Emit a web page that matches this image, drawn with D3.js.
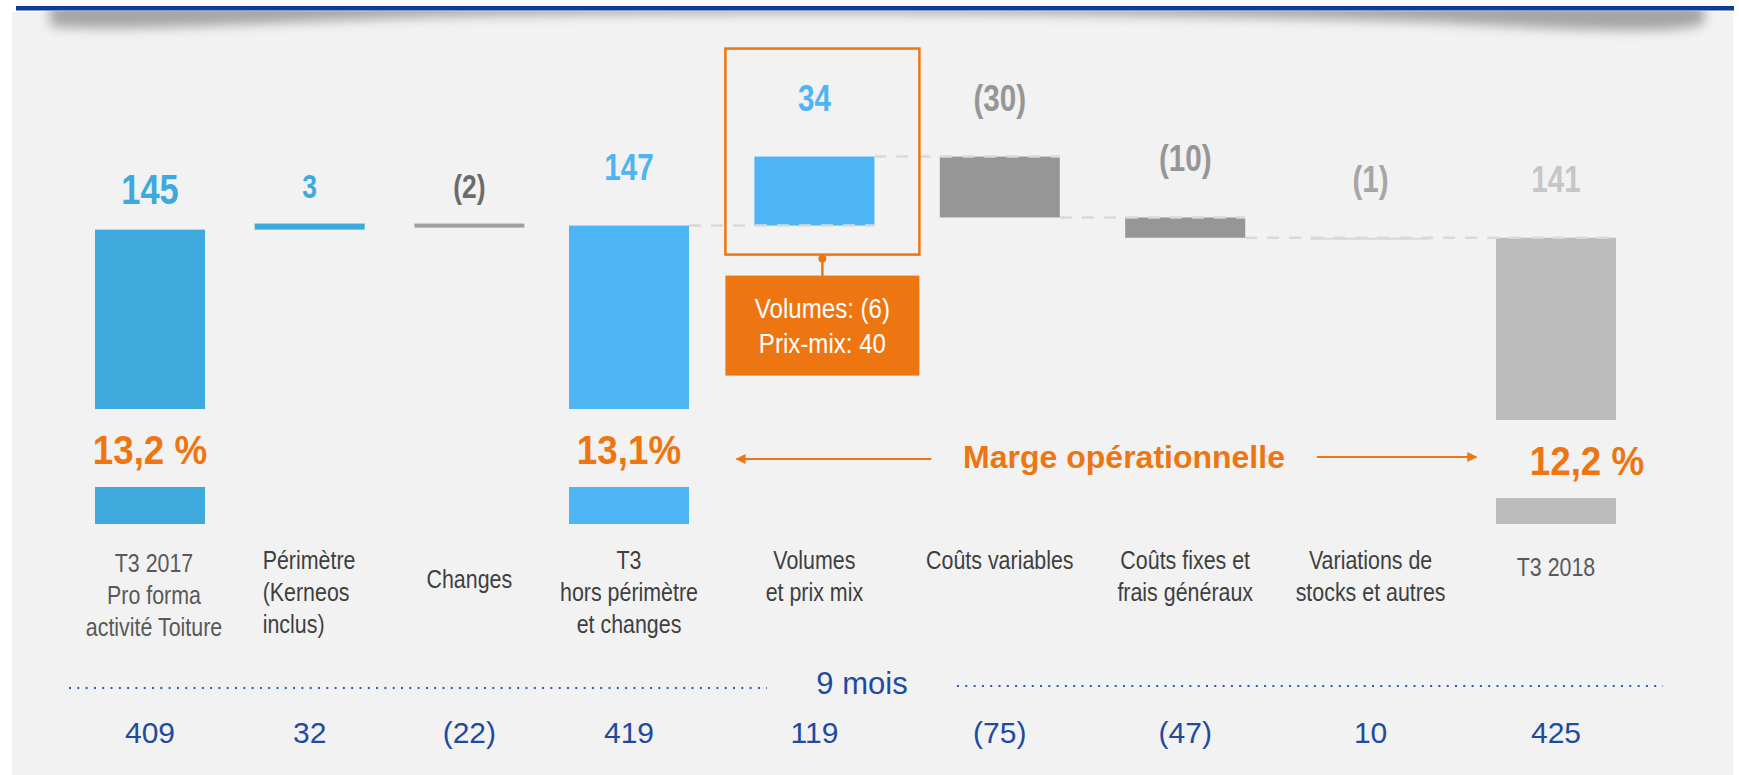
<!DOCTYPE html>
<html>
<head>
<meta charset="utf-8">
<script src="https://cdn.jsdelivr.net/npm/d3@7"></script>
<style>
html, body { margin: 0; padding: 0; background: #fff; overflow: hidden; }
</style>
</head>
<body>
<div id="chart"></div>
<script>

// Q3 operating income bridge (waterfall)
var categories = [
    ["T3 2017", "Pro forma", "activité Toiture"],
    ["Périmètre", "(Kerneos", "inclus)"],
    ["Changes"],
    ["T3", "hors périmètre", "et changes"],
    ["Volumes", "et prix mix"],
    ["Coûts variables"],
    ["Coûts fixes et", "frais généraux"],
    ["Variations de", "stocks et autres"],
    ["T3 2018"]
];
var values = [145, 3, -2, 147, 34, -30, -10, -1, 141];
var isTotal = [true, false, false, true, false, false, false, false, true];
var margins = ["13,2 %", null, null, "13,1%", null, null, null, null, "12,2 %"];
var nineMonths = [409, 32, -22, 419, 119, -75, -47, 10, 425];
var volumeDetail = ["Volumes: (6)", "Prix-mix: 40"];

var barColors = ["#3ea9dc", "#3ea9dc", "#a0a0a0", "#4db5f3", "#4db5f3", "#969696", "#969696", "#d9d9d9", "#bbbbbb"];
var labelColors = ["#3ea9dc", "#3ea9dc", "#6b6b6b", "#4db5f3", "#4db5f3", "#969696", "#969696", "#a6a6a6", "#c6c6c6"];
var orange = "#ed7612",
    navy = "#1f4b9e";

var W = 1739, H = 775;
var n = values.length;

var svg = d3.select("#chart")
    .append("svg")
    .attr("width", W)
    .attr("height", H)
    .style("font-family", "'Liberation Sans', Arial, sans-serif");

// slide frame: grey panel, blue rule and its shadow
var defs = svg.append("defs");
defs.append("filter")
    .attr("id", "blur")
    .attr("x", "-5%").attr("y", "-100%")
    .attr("width", "110%").attr("height", "300%")
    .append("feGaussianBlur")
    .attr("stdDeviation", 6);
defs.append("clipPath")
    .attr("id", "panelClip")
    .append("rect")
    .attr("x", 12).attr("y", 11)
    .attr("width", 1721).attr("height", 764);

svg.append("rect")
    .attr("x", 12).attr("y", 12)
    .attr("width", 1721).attr("height", 763)
    .attr("fill", "#f2f2f2");

svg.append("g")
    .attr("clip-path", "url(#panelClip)")
    .append("path")
    .attr("d", "M50,2 L1704,2 L1704,24 C1670,34 1600,31 1430,22 C1100,11 650,11 420,17 C230,24 110,32 50,26 Z")
    .attr("fill", "#3a3a3a")
    .attr("opacity", 0.42)
    .attr("filter", "url(#blur)");

svg.append("rect")
    .attr("x", 16).attr("y", 6)
    .attr("width", 1718).attr("height", 4.5)
    .attr("fill", "#0c3f94");

// scales (the first three columns are narrower on the slide)
var x = d3.scaleLinear()
    .domain([0, 3, n - 1])
    .range([150, 629, 1556]);

var y = d3.scaleLinear()
    .domain([0, 200])
    .range([524, 118]);

function fmt(v) {
    return v < 0 ? "(" + (-v) + ")" : String(v);
}

function barWidth(i) {
    return i < 3 ? 110 : 120;
}

// narrow text: Arial Narrow look via a horizontal squeeze
function addText(g, str, cx, cy, size, color, weight, sx, anchor) {
    return g.append("text")
        .attr("transform", "translate(" + cx + "," + cy + ") scale(" + sx + ",1)")
        .attr("text-anchor", anchor || "middle")
        .attr("font-size", size + "px")
        .attr("font-weight", weight)
        .attr("fill", color)
        .text(str);
}

// waterfall levels
var level = 0;
var bars = values.map(function(v, i) {
    var start = isTotal[i] ? 0 : level;
    var end = isTotal[i] ? v : level + v;
    level = end;
    return { i: i, v: v, lo: Math.min(start, end), hi: Math.max(start, end), end: end };
});

// bars
svg.append("g").selectAll("rect")
    .data(bars)
    .enter()
    .append("rect")
    .attr("x", function(d) { return x(d.i) - barWidth(d.i) / 2; })
    .attr("y", function(d) { return y(d.hi); })
    .attr("width", function(d) { return barWidth(d.i); })
    .attr("height", function(d) { return y(d.lo) - y(d.hi); })
    .attr("fill", function(d) { return barColors[d.i]; });

// dashed connectors from the T3 total onwards (tiny steps skipped)
var shown = bars.filter(function(d) { return d.i >= 3 && (isTotal[d.i] || Math.abs(d.v) >= 2); });
var links = [];
for (var k = 0; k < shown.length - 1; k++) {
    links.push({ a: shown[k], b: shown[k + 1] });
}
svg.append("g").selectAll("line")
    .data(links)
    .enter()
    .append("line")
    .attr("x1", function(d) { return x(d.a.i) + barWidth(d.a.i) / 2; })
    .attr("x2", function(d) { return x(d.b.i) + barWidth(d.b.i) / 2; })
    .attr("y1", function(d) { return y(d.a.end); })
    .attr("y2", function(d) { return y(d.a.end); })
    .attr("stroke", "#d9d9d9")
    .attr("stroke-width", 2.5)
    .attr("stroke-dasharray", "12 10");

// value labels above bars
var labels = svg.append("g");
bars.forEach(function(d) {
    var size = d.i === 0 ? 43 : (d.i < 3 ? 33 : 37);
    var gap = d.i < 3 ? 26 : 46;
    addText(labels, fmt(d.v), x(d.i), y(d.hi) - gap, size, labelColors[d.i], "bold", 0.8);
});

// operating margin boxes cut into the total bars
var marginG = svg.append("g");
bars.forEach(function(d) {
    if (!margins[d.i]) return;
    var last = d.i === n - 1;
    var top = y(0) - (last ? 104 : 115);
    marginG.append("rect")
        .attr("x", x(d.i) - barWidth(d.i) / 2 - 1)
        .attr("y", top)
        .attr("width", barWidth(d.i) + 2)
        .attr("height", 78)
        .attr("fill", "#f2f2f2");
    addText(marginG, margins[d.i], x(d.i) + (last ? 31 : 0), top + 55, 40, orange, "bold", 0.92);
});

// "Marge opérationnelle" with arrows
var arrowY = y(0) - 66;
defs.append("marker")
    .attr("id", "head")
    .attr("viewBox", "0 0 10 10")
    .attr("refX", 9).attr("refY", 5)
    .attr("markerWidth", 5).attr("markerHeight", 5)
    .attr("orient", "auto-start-reverse")
    .append("path")
    .attr("d", "M0,0 L10,5 L0,10 Z")
    .attr("fill", orange);

svg.append("line")
    .attr("x1", x(4.63)).attr("x2", x(3.58))
    .attr("y1", arrowY + 1).attr("y2", arrowY + 1)
    .attr("stroke", orange).attr("stroke-width", 2)
    .attr("marker-end", "url(#head)");
svg.append("line")
    .attr("x1", x(6.71)).attr("x2", x(7.57))
    .attr("y1", arrowY - 1).attr("y2", arrowY - 1)
    .attr("stroke", orange).attr("stroke-width", 2)
    .attr("marker-end", "url(#head)");
addText(svg, "Marge opérationnelle", x(5.67), arrowY + 10, 32, orange, "bold", 1);

// callout on volumes / price mix
var cx = x(4) + 8;
var boxTop = y(181) - 108, boxBottom = y(147) + 29;
svg.append("rect")
    .attr("x", cx - 97).attr("y", boxTop)
    .attr("width", 194).attr("height", boxBottom - boxTop)
    .attr("fill", "none")
    .attr("stroke", orange).attr("stroke-width", 2.5);
svg.append("circle")
    .attr("cx", cx).attr("cy", boxBottom + 4).attr("r", 4)
    .attr("fill", orange);
svg.append("line")
    .attr("x1", cx).attr("x2", cx)
    .attr("y1", boxBottom + 4).attr("y2", boxBottom + 22)
    .attr("stroke", orange).attr("stroke-width", 2.5);
svg.append("rect")
    .attr("x", cx - 97).attr("y", boxBottom + 21)
    .attr("width", 194).attr("height", 100)
    .attr("fill", orange);
volumeDetail.forEach(function(t, j) {
    addText(svg, t, cx, boxBottom + 63 + j * 35, 28, "#ffffff", "normal", 0.86);
});

// category labels
var catG = svg.append("g");
categories.forEach(function(lines, i) {
    var nudge = i === 2 ? 19 : (i === n - 1 ? 7 : (i === 0 ? 3 : 0));
    var color = (i === 0 || i === n - 1) ? "#595959" : "#3f3f3f";
    lines.forEach(function(t, j) {
        if (i === 1) {
            addText(catG, t, x(i) - 47, y(0) + 45 + j * 32, 25.5, color, "normal", 0.84, "start");
        } else {
            addText(catG, t, x(i) + (i === 0 ? 4 : 0), y(0) + 45 + nudge + j * 32, 25.5, color, "normal", 0.84);
        }
    });
});

// 9 months row
svg.append("line")
    .attr("x1", 69).attr("x2", 767)
    .attr("y1", 688).attr("y2", 688)
    .attr("stroke", "#2b5cad").attr("stroke-width", 2)
    .attr("stroke-dasharray", "2 6.3");
svg.append("line")
    .attr("x1", 957).attr("x2", 1663)
    .attr("y1", 686).attr("y2", 686)
    .attr("stroke", "#2b5cad").attr("stroke-width", 2)
    .attr("stroke-dasharray", "2 6.3");
addText(svg, "9 mois", 862, 694, 31, navy, "normal", 1);

svg.append("g").selectAll("text")
    .data(nineMonths)
    .enter()
    .append("text")
    .attr("x", function(d, i) { return x(i); })
    .attr("y", 743)
    .attr("text-anchor", "middle")
    .attr("font-size", "30px")
    .attr("fill", navy)
    .text(function(d) { return fmt(d); });

</script>
</body>
</html>
